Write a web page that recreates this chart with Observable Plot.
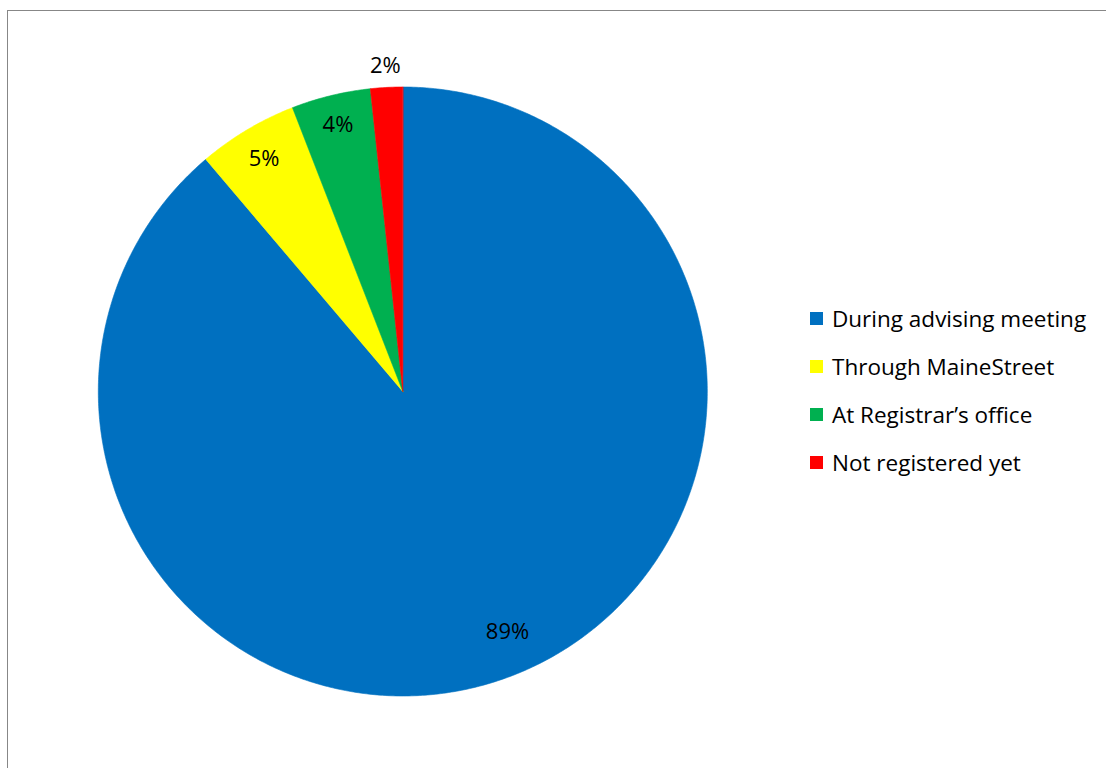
<!DOCTYPE html>
<html>
<head>
<meta charset="utf-8">
<script src="https://cdn.jsdelivr.net/npm/d3@7"></script>
<script src="https://cdn.jsdelivr.net/npm/@observablehq/plot@0.6"></script>
<style>
  html, body { margin: 0; padding: 0; background: #ffffff; }
  #wrap { position: relative; width: 1106px; height: 768px; overflow: hidden; background: #fff;
          font-family: "Open Sans", sans-serif; }
  #frame { position: absolute; left: 7px; top: 10px; width: 1300px; height: 900px;
           border-left: 1.5px solid #878787; border-top: 1.5px solid #878787; }
  #chart { position: absolute; left: 0; top: 0; }
  #legend { position: absolute; left: 810px; top: 0; }
  .item { position: absolute; left: 0; display: flex; align-items: center; white-space: nowrap;
          height: 30px; font-size: 22.5px; color: #000; }
  .sw { width: 13px; height: 13px; margin-right: 9px; flex: none; }
</style>
</head>
<body>
<div id="wrap">
  <div id="frame"></div>
  <div id="chart"></div>
  <div id="legend"></div>
</div>
<script>
// ---- data ----
const categories = ["During advising meeting", "Through MaineStreet", "At Registrar\u2019s office", "Not registered yet"];
const values = [88.8, 5.3, 4.2, 1.7];
const valueLabels = ["89%", "5%", "4%", "2%"];
const colors = ["#0070C0", "#FFFF00", "#00B050", "#FF0000"];

// ---- layout (style) ----
const cx = 402.3, cy = 391, r = 304.5;
const labelRadius = [0.86, 0.89, 0.90, 1.07];
const labelAngleShift = [-3.4, 0, 0, 0]; // degrees, best-fit style nudge

const total = d3.sum(values);
let acc = 0;
const slices = values.map((v, i) => {
  const a0 = acc / total * 2 * Math.PI;
  acc += v;
  const a1 = acc / total * 2 * Math.PI;
  return {cat: categories[i], a0, a1, label: valueLabels[i], i};
});

// polygon outline of each slice on the unit circle (angle clockwise from 12 o'clock)
const pts = [];
for (const s of slices) {
  pts.push({cat: s.cat, x: 0, y: 0});
  const n = Math.max(2, Math.ceil((s.a1 - s.a0) / (Math.PI / 360)));
  for (let k = 0; k <= n; k++) {
    const a = s.a0 + (s.a1 - s.a0) * k / n;
    pts.push({cat: s.cat, x: Math.sin(a), y: Math.cos(a)});
  }
}

const labelData = slices.map(s => {
  const m = (s.a0 + s.a1) / 2 + labelAngleShift[s.i] * Math.PI / 180, f = labelRadius[s.i];
  return {text: s.label, x: f * Math.sin(m), y: f * Math.cos(m)};
});

const chart = Plot.plot({
  width: 1106,
  height: 768,
  margin: 0,
  style: {background: "transparent"},
  x: {domain: [-1, 1], range: [cx - r, cx + r], axis: null},
  y: {domain: [-1, 1], range: [cy + r, cy - r], axis: null},
  color: {domain: categories, range: colors},
  marks: [
    Plot.line(pts, {x: "x", y: "y", z: "cat", fill: "cat", stroke: "cat", strokeWidth: 0.6, curve: "linear-closed"}),
    Plot.text(labelData, {x: "x", y: "y", text: "text", fontSize: 22, fill: "#000",
      fontFamily: "'Open Sans', sans-serif", textAnchor: "middle"})
  ]
});
document.getElementById("chart").appendChild(chart);

// legend
const legend = document.getElementById("legend");
const rowCenters0 = 318, rowStep = 48.3;
categories.forEach((c, i) => {
  const item = document.createElement("div");
  item.className = "item";
  item.style.top = (rowCenters0 + i * rowStep - 15) + "px";
  const sw = document.createElement("span");
  sw.className = "sw";
  sw.style.background = colors[i];
  const t = document.createElement("span");
  t.textContent = c;
  item.appendChild(sw);
  item.appendChild(t);
  legend.appendChild(item);
});
</script>
</body>
</html>
